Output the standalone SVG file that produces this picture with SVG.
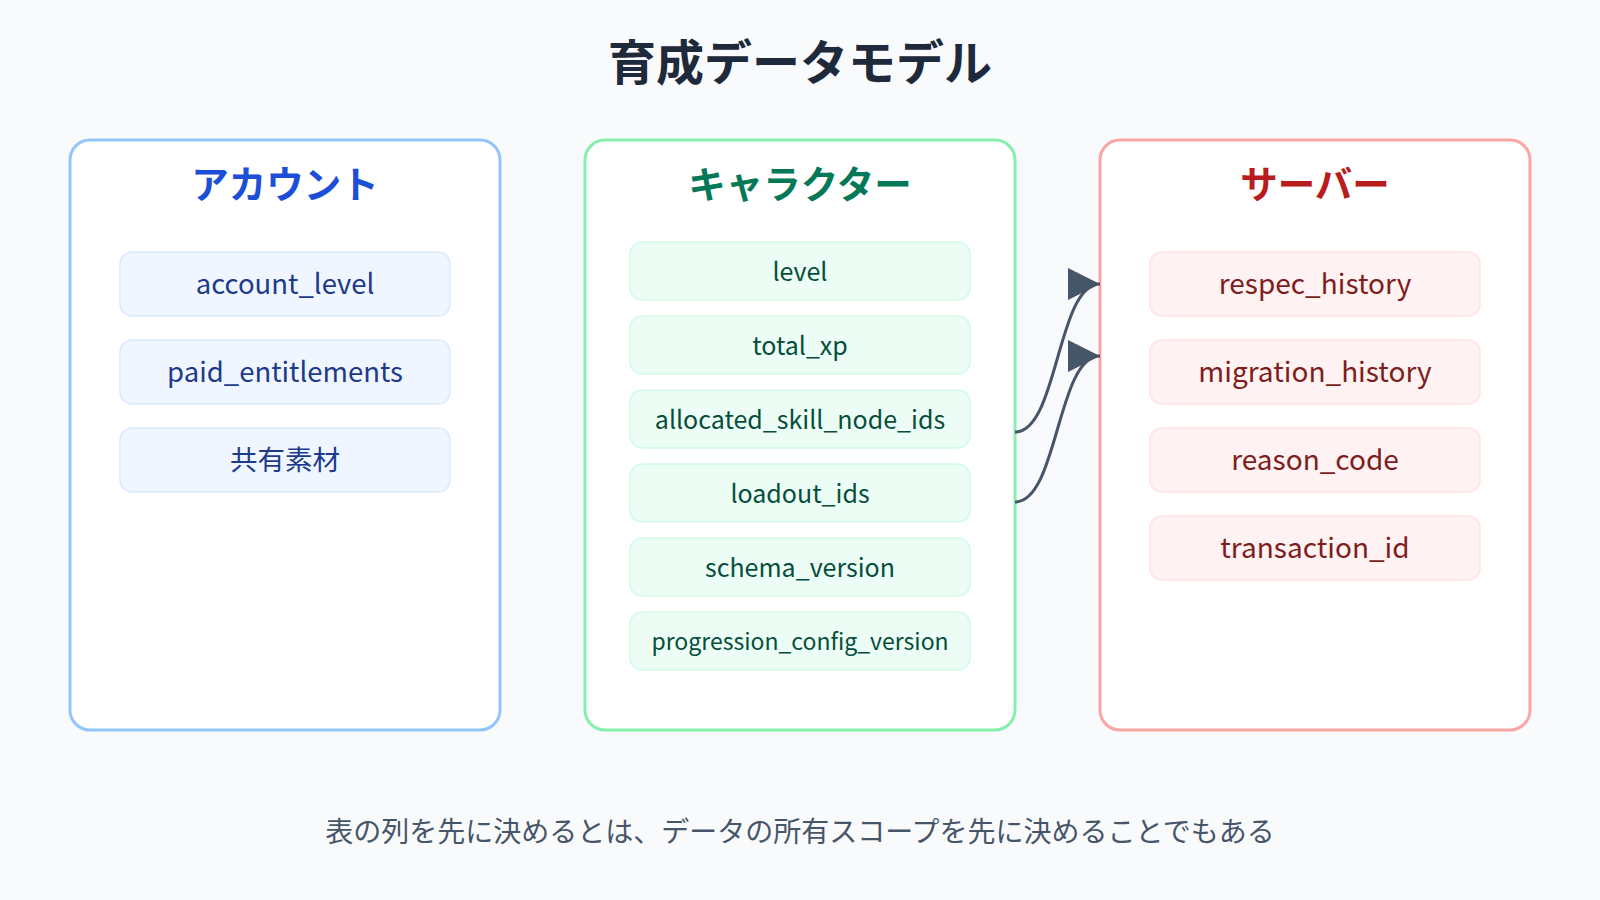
<svg xmlns="http://www.w3.org/2000/svg" width="1600" height="900" viewBox="0 0 1600 900">
<style>
text{font-family:"Noto Sans CJK JP","Noto Sans",sans-serif;text-anchor:middle;dominant-baseline:central}
.title{font-size:48px;font-weight:700;fill:#1e293b}
.caption{font-size:28px;fill:#475569}
.ptitle{font-size:37.5px;font-weight:700}
.panel{fill:#ffffff;stroke-width:3}
.item{stroke-width:1.5}
.acc .panel{stroke:#93c5fd}.acc .ptitle{fill:#1d4ed8}.acc .item{fill:#eff6ff;stroke:#dbeafe}.acc .it{fill:#1e3a8a;font-size:27.5px}
.chr .panel{stroke:#86efac}.chr .ptitle{fill:#047857}.chr .item{fill:#ecfdf5;stroke:#d1fae5}.chr .it{fill:#064e3b;font-size:25px}
.srv .panel{stroke:#fca5a5}.srv .ptitle{fill:#b91c1c}.srv .item{fill:#fef2f2;stroke:#fee2e2}.srv .it{fill:#7f1d1d;font-size:28px}
.edge{fill:none;stroke:#475569;stroke-width:3}
</style>
<defs>
<marker id="arr" markerUnits="userSpaceOnUse" markerWidth="34" markerHeight="34" refX="32" refY="16" orient="auto" viewBox="0 0 34 32">
<path d="M0,0 L32,16 L0,32 Z" fill="#475569"/>
</marker>
</defs>
<rect width="1600" height="900" fill="#f8fafc"/>
<text class="title" x="800" y="59">育成データモデル</text>

<g id="account" class="acc">
<rect class="panel" x="70" y="140" width="430" height="590" rx="20"/>
<text class="ptitle" x="285" y="181">アカウント</text>
<g id="acc-1"><rect class="item" x="120" y="252" width="330" height="64" rx="12"/><text class="it" x="285" y="282">account_level</text></g>
<g id="acc-2"><rect class="item" x="120" y="340" width="330" height="64" rx="12"/><text class="it" x="285" y="370">paid_entitlements</text></g>
<g id="acc-3"><rect class="item" x="120" y="428" width="330" height="64" rx="12"/><text class="it" x="285" y="458">共有素材</text></g>
</g>

<g id="character" class="chr">
<rect class="panel" x="585" y="140" width="430" height="590" rx="20"/>
<text class="ptitle" x="800" y="181">キャラクター</text>
<g id="chr-1"><rect class="item" x="630" y="242" width="340" height="58" rx="12"/><text class="it" x="800" y="270">level</text></g>
<g id="chr-2"><rect class="item" x="630" y="316" width="340" height="58" rx="12"/><text class="it" x="800" y="344">total_xp</text></g>
<g id="chr-3"><rect class="item" x="630" y="390" width="340" height="58" rx="12"/><text class="it" x="800" y="418">allocated_skill_node_ids</text></g>
<g id="chr-4"><rect class="item" x="630" y="464" width="340" height="58" rx="12"/><text class="it" x="800" y="492">loadout_ids</text></g>
<g id="chr-5"><rect class="item" x="630" y="538" width="340" height="58" rx="12"/><text class="it" x="800" y="566">schema_version</text></g>
<g id="chr-6"><rect class="item" x="630" y="612" width="340" height="58" rx="12"/><text class="it" x="800" y="640" style="font-size:23px">progression_config_version</text></g>
</g>

<g id="server" class="srv">
<rect class="panel" x="1100" y="140" width="430" height="590" rx="20"/>
<text class="ptitle" x="1315" y="181">サーバー</text>
<g id="srv-1"><rect class="item" x="1150" y="252" width="330" height="64" rx="12"/><text class="it" x="1315" y="282">respec_history</text></g>
<g id="srv-2"><rect class="item" x="1150" y="340" width="330" height="64" rx="12"/><text class="it" x="1315" y="370">migration_history</text></g>
<g id="srv-3"><rect class="item" x="1150" y="428" width="330" height="64" rx="12"/><text class="it" x="1315" y="458">reason_code</text></g>
<g id="srv-4"><rect class="item" x="1150" y="516" width="330" height="64" rx="12"/><text class="it" x="1315" y="546">transaction_id</text></g>
</g>

<g id="connectors">
<path class="edge" d="M1015,432 C1058,432 1057,284 1100,284" marker-end="url(#arr)"/>
<path class="edge" d="M1015,502 C1058,502 1057,356 1100,356" marker-end="url(#arr)"/>
</g>

<text class="caption" x="800" y="830">表の列を先に決めるとは、データの所有スコープを先に決めることでもある</text>
</svg>
